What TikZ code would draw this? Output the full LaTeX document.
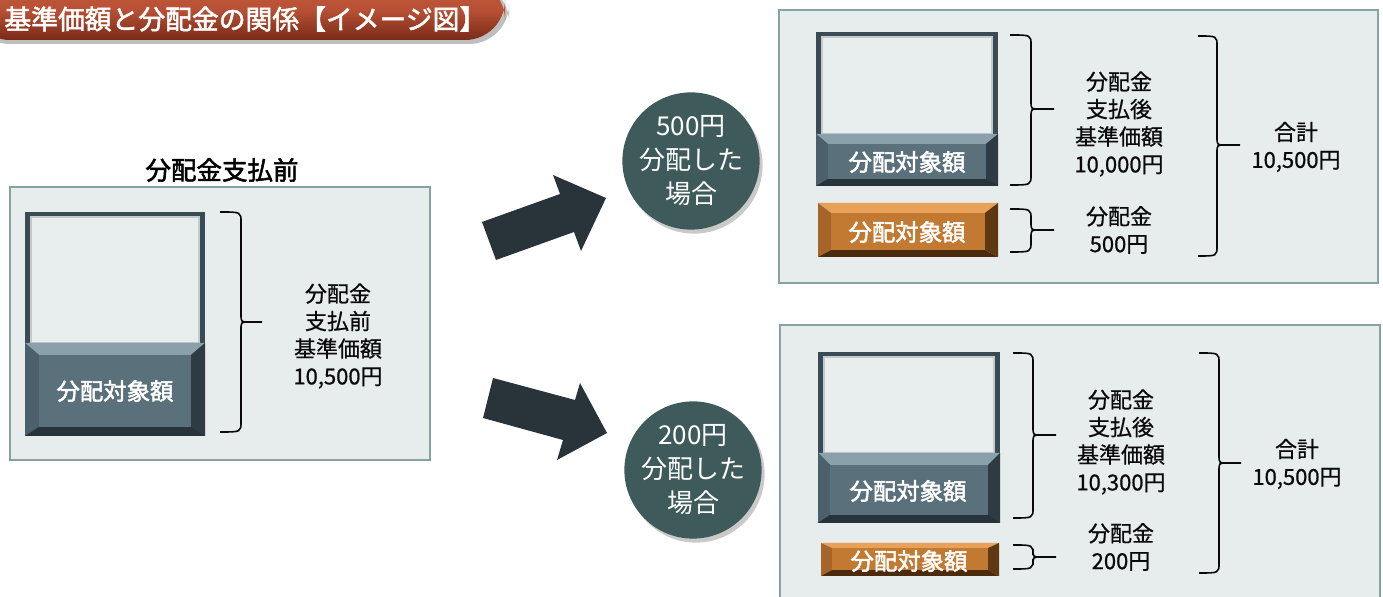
\documentclass[tikz,border=0pt]{standalone}
\usepackage{fontspec}
\setmainfont{Noto Sans CJK JP}[AutoFakeBold=2]
\usetikzlibrary{shadows}
\definecolor{panelfill}{HTML}{E7ECEC}
\definecolor{panelline}{HTML}{86A2A3}
\definecolor{lightface}{HTML}{E8EEEE}
\definecolor{frame}{HTML}{3A4B54}
\definecolor{slface}{HTML}{5A707B}
\definecolor{sltop}{HTML}{8AA0AA}
\definecolor{slleft}{HTML}{4B606A}
\definecolor{slright}{HTML}{2E3B42}
\definecolor{slbot}{HTML}{27333A}
\definecolor{orface}{HTML}{C27A32}
\definecolor{ortop}{HTML}{E9A15A}
\definecolor{orleft}{HTML}{A5652A}
\definecolor{orright}{HTML}{5E3812}
\definecolor{orbot}{HTML}{4C2B0D}
\definecolor{arrowc}{HTML}{28333A}
\definecolor{circc}{HTML}{3F5A5A}
\definecolor{titletop}{HTML}{C65A3C}
\definecolor{titlebot}{HTML}{7A2A18}
\definecolor{txt}{HTML}{0A0A0A}
\newcommand\bevelbox[8]{%
 \fill[#8top] (#1,#2) -- (#3,#2) -- ({#3-#5},{#2+#6}) -- ({#1+#5},{#2+#6}) -- cycle;
 \fill[#8left] (#1,#2) -- ({#1+#5},{#2+#6}) -- ({#1+#5},{#4-#7}) -- (#1,#4) -- cycle;
 \fill[#8right] (#3,#2) -- ({#3-#5},{#2+#6}) -- ({#3-#5},{#4-#7}) -- (#3,#4) -- cycle;
 \fill[#8bot] (#1,#4) -- ({#1+#5},{#4-#7}) -- ({#3-#5},{#4-#7}) -- (#3,#4) -- cycle;
 \fill[#8face] ({#1+#5},{#2+#6}) rectangle ({#3-#5},{#4-#7});
}
\newcommand\bracedraw[6]{%
 \draw[bracec] (#1,#4) .. controls (#2,#4) .. (#2,{#4+10}) -- (#2,{#5-8}) .. controls (#2,#5) .. ({#2+8},#5) -- (#3,#5);
 \draw[bracec] (#1,#6) .. controls (#2,#6) .. (#2,{#6-10}) -- (#2,{#5+8}) .. controls (#2,#5) .. ({#2+8},#5);
}
\newcommand\darkbar[5]{% x1 y1 x2 ysplit y2
 \fill[frame] (#1,#2) rectangle (#3,#5);
 \fill[lightface] ({#1+6},{#2+5}) rectangle ({#3-6},#4);
 \draw[white!70!frame, line width=0.6pt] ({#1+6},{#2+5}) rectangle ({#3-6},#4);
}
\tikzset{
 panel/.style={fill=panelfill, draw=panelline, line width=1pt},
 bracec/.style={draw=txt, line width=0.8pt},
 txtnode/.style={text=txt, align=center, font=\fontsize{11}{13.75}\selectfont\addfontfeature{FakeBold=0.7}, inner sep=0pt},
 barlabel/.style={text=white, font=\bfseries\fontsize{11.7}{14}\selectfont, inner sep=0pt},
 circ/.style={circle, fill=circc, minimum size=67pt, inner sep=0pt, text=white, align=center,
   font=\fontsize{13}{17}\selectfont, drop shadow={shadow xshift=1.5pt, shadow yshift=-2pt, opacity=0.35, fill=black!60}},
 blockarrow/.style={fill=arrowc}
}
\begin{document}
\begin{tikzpicture}[x=0.5pt, y=-0.5pt]
\useasboundingbox (0,0) rectangle (1383,597);
\clip (0,0) rectangle (1383,597);
\fill[white] (0,0) rectangle (1383,597);
% title banner
\fill[black!25, rounded corners=20] (-30,-18) rectangle (509,44);
\shade[top color=titletop, bottom color=titlebot, middle color=titletop!80!titlebot, rounded corners=20] (-30,-20) rectangle (505,40);
\node[anchor=west, text=white, font=\bfseries\fontsize{13.4}{15}\selectfont, inner sep=0pt] (title) at (4,19) {基準価額と分配金の関係【イメージ図】};
% left panel
\node[text=black, font=\bfseries\fontsize{12.75}{15}\selectfont, inner sep=0pt] (lefttitle) at (222,170) {分配金支払前};
\draw[panel] (10,187) rectangle (430,460);
\darkbar{25}{212}{205}{343}{436}
\bevelbox{25}{343}{205}{436}{14}{12}{9}{sl}
\node[barlabel] (lbar) at (115,391) {分配対象額};
\bracedraw{220}{241}{262}{212}{322}{432}
\node[txtnode] (ltext) at (338,336) {分配金\\支払前\\基準価額\\10,500円};
% arrows
\fill[blockarrow] (482,222) -- (560,194) -- (553,175) -- (606,198) -- (581,251) -- (574,232) -- (496,260) -- cycle;
\fill[blockarrow] (493,378) -- (575,400) -- (580,383) -- (607,433) -- (557,460) -- (563,440) -- (483,418) -- cycle;
% circles
\node[circ] (c1) at (691,161) {500円\\分配した\\場合};
\node[circ] (c2) at (693,470) {200円\\分配した\\場合};
% top-right panel
\draw[panel] (779,10) rectangle (1378,283);
\darkbar{816}{32}{998}{134}{186}
\bevelbox{816}{134}{998}{186}{12}{10}{7}{sl}
\node[barlabel] (tbar) at (907,162) {分配対象額};
\bevelbox{818}{203}{998}{257}{13}{10}{7}{or}
\node[barlabel] (tobar) at (907,232) {分配対象額};
\bracedraw{1010}{1031}{1054}{35}{109}{185}
\bracedraw{1010}{1031}{1054}{209}{230}{252}
\bracedraw{1198}{1217}{1240}{36}{145}{256}
\node[txtnode] (ttext) at (1119,124) {分配金\\支払後\\基準価額\\10,000円};
\node[txtnode] (ttext2) at (1119,230) {分配金\\500円};
\node[txtnode] (ttotal) at (1296,147) {合計\\10,500円};
% bottom-right panel
\draw[panel] (780,325) rectangle (1380,610);
\darkbar{818}{352}{1000}{453}{523}
\bevelbox{818}{453}{1000}{523}{12}{12}{8}{sl}
\node[barlabel] (bbar) at (908,491) {分配対象額};
\bevelbox{821}{543}{999}{576}{11}{5}{6}{or}
\node[barlabel] (bobar) at (909,561) {分配対象額};
\bracedraw{1013}{1033}{1056}{353}{435}{518}
\bracedraw{1013}{1033}{1056}{545}{557}{569}
\bracedraw{1199}{1219}{1241}{353}{463}{573}
\node[txtnode] (btext) at (1121,442) {分配金\\支払後\\基準価額\\10,300円};
\node[txtnode] (btext2) at (1121,547) {分配金\\200円};
\node[txtnode] (btotal) at (1297,464) {合計\\10,500円};
\end{tikzpicture}
\end{document}
